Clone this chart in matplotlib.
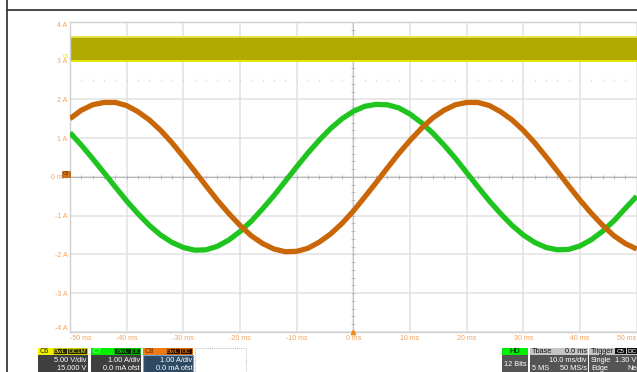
import matplotlib
matplotlib.use('Agg')
import matplotlib.pyplot as plt
from matplotlib.patches import Rectangle
import numpy as np

# ---------------- data ----------------
time_ms = list(range(-50, 51, 2))
c7_green = [1.14, 0.82, 0.47, 0.11, -0.26, -0.62, -0.95, -1.25, -1.50, -1.69,
            -1.82, -1.89, -1.88, -1.79, -1.63, -1.41, -1.14, -0.82, -0.48, -0.11,
            0.26, 0.62, 0.95, 1.25, 1.50, 1.69, 1.82, 1.87, 1.86, 1.78,
            1.62, 1.40, 1.13, 0.82, 0.48, 0.11, -0.26, -0.62, -0.95, -1.25,
            -1.50, -1.69, -1.82, -1.88, -1.87, -1.78, -1.62, -1.40, -1.13, -0.81,
            -0.50]
c8_orange = [1.50, 1.72, 1.86, 1.92, 1.92, 1.84, 1.68, 1.47, 1.20, 0.88,
             0.52, 0.15, -0.23, -0.60, -0.94, -1.25, -1.52, -1.72, -1.86, -1.93,
             -1.92, -1.84, -1.68, -1.47, -1.20, -0.88, -0.52, -0.15, 0.23, 0.60,
             0.94, 1.25, 1.52, 1.72, 1.86, 1.92, 1.92, 1.84, 1.68, 1.47,
             1.20, 0.88, 0.52, 0.15, -0.23, -0.60, -0.94, -1.25, -1.52, -1.72,
             -1.86]
c6_low, c6_high = 3.0, 3.6

x_ticks = [-50, -40, -30, -20, -10, 0, 10, 20, 30, 40, 50]
x_labels = ['-50 ms', '-40 ms', '-30 ms', '-20 ms', '-10 ms', '0 ms',
            '10 ms', '20 ms', '30 ms', '40 ms', '50 ms']
y_ticks = [4, 3, 2, 1, 0, -1, -2, -3, -4]
y_labels = ['4 A', '3 A', '2 A', '1 A', '0 mA', '-1 A', '-2 A', '-3 A', '-4 A']

# ---------------- figure ----------------
plt.rcParams['font.family'] = ['Liberation Sans', 'DejaVu Sans']
W, H = 637, 372
fig = plt.figure(figsize=(W / 100, H / 100), dpi=100)
fig.patch.set_facecolor('white')

L, T, R, B = 70, 21.8, 636.7, 332
ax = fig.add_axes([L / W, 1 - B / H, (R - L) / W, (B - T) / H])
ax.set_xlim(-50, 50)
ax.set_ylim(-4, 4)
for s in ax.spines.values():
    s.set_color('#d0d0d0')
    s.set_linewidth(1.0)
ax.spines['right'].set_visible(False)

lab_col = '#f5a35c'
ax.set_xticks(x_ticks)
ax.set_xticklabels(x_labels)
ax.set_yticks(y_ticks)
ax.set_yticklabels(y_labels)
ax.tick_params(axis='both', length=0, labelsize=5, labelcolor=lab_col)
ax.tick_params(axis='x', pad=2.2)
ax.tick_params(axis='y', pad=2.0)
xl = ax.get_xticklabels()
xl[0].set_ha('left')
xl[-1].set_ha('right')
yl = ax.get_yticklabels()
yl[0].set_va('top')
yl[-1].set_va('bottom')

ax.grid(True, color='#e2e2e2', lw=1.1, zorder=0)
ax.set_axisbelow(True)

# center crosshair with minor ticks
ax.axhline(0, color='#b8b8b8', lw=0.8, zorder=1)
ax.axvline(0, color='#c4c4c4', lw=0.8, zorder=1)
mt = np.arange(-48, 49, 2)
ax.plot(mt, np.zeros_like(mt), ls='none', marker='|', ms=3, mew=0.6, color='#b0b0b0', zorder=1)
ax.plot(mt, np.full(mt.shape, 2.5), ls='none', marker='|', ms=2, mew=0.6, color='#cfcfcf', zorder=1)
yt = np.arange(-3.8, 3.81, 0.2)
ax.plot(np.zeros_like(yt), yt, ls='none', marker='_', ms=3, mew=0.6, color='#b8b8b8', zorder=1)

# C6 band
ax.axhspan(c6_low, c6_high, color='#b0aa00', lw=0, zorder=2)
ax.axhline(c6_high, color='#e4e43c', lw=1.3, zorder=2)
ax.axhline(c6_low, color='#e8e800', lw=1.4, zorder=2)

# traces
ax.plot(time_ms, c7_green, color='#1fc41f', lw=3.8, solid_capstyle='butt', solid_joinstyle='round', zorder=3)
ax.plot(time_ms, c8_orange, color='#c96708', lw=3.8, solid_capstyle='butt', solid_joinstyle='round', zorder=4)

# trigger position marker
ax.plot([0], [-4], marker='^', ms=3.2, color='#f08a20', clip_on=False, zorder=6)

# ---------------- overlay in pixel coordinates ----------------
ov = fig.add_axes([0, 0, 1, 1])
ov.set_xlim(0, W)
ov.set_ylim(H, 0)
ov.axis('off')
ov.patch.set_alpha(0)
ov.set_zorder(5)


def box(x0, y0, x1, y1, fc, ec='none', lw=0.0, ls='-'):
    ov.add_patch(Rectangle((x0, y0), x1 - x0, y1 - y0, facecolor=fc,
                           edgecolor=ec, lw=lw, ls=ls))


def txt(x, y, s, color, ha='left', size=5.3):
    ov.text(x, y, s, color=color, ha=ha, va='center', fontsize=size)


# outer frame lines
ov.plot([7, 7], [0, H], color='#3a3a3a', lw=1.3)
ov.plot([7, W], [10, 10], color='#3a3a3a', lw=1.3)

# channel markers at left of the plot
box(62, 170.5, 70, 176.5, '#d77010', ec='#8a4400', lw=0.4)
txt(66, 173.5, 'C8', '#6a3000', ha='center', size=3.5)
txt(65.5, 56, 'C6', '#e0e000', ha='center', size=3.5)

# ---- channel boxes ----
hy0, hy1, by1 = 347.7, 355, 373
bs = 4.5
# C6
box(38, hy0, 88, hy1, '#f2f200')
box(38, hy1, 88, by1, '#3f3f3f')
txt(40, 351.5, 'C6', '#202000')
box(52.5, hy0 + 0.6, 66.5, hy1 - 0.6, '#262600', ec='#e8e800', lw=0.5)
txt(59.5, 351.5, 'BwL', '#e8e800', ha='center', size=bs)
box(66.8, hy0 + 0.6, 87.4, hy1 - 0.6, '#262600', ec='#e8e800', lw=0.5)
txt(77.1, 351.5, 'DC1M', '#e8e800', ha='center', size=bs)
txt(86.7, 360.8, '5.00 V/div', 'white', ha='right')
txt(86.7, 369, '15.000 V', 'white', ha='right')
# C7
box(91, hy0, 141, hy1, '#00f000')
box(91, hy1, 141, by1, '#3f3f3f')
txt(92.5, 351.5, 'C7', '#90ff90')
box(114, hy0 + 0.6, 131, hy1 - 0.6, '#003000', ec='#00d000', lw=0.5)
txt(122.5, 351.5, 'BwL', '#00e000', ha='center', size=bs)
box(131.2, hy0 + 0.6, 140.3, hy1 - 0.6, '#003000', ec='#00d000', lw=0.5)
txt(135.8, 351.5, 'DC', '#00e000', ha='center', size=bs)
txt(140, 360.8, '1.00 A/div', 'white', ha='right')
txt(140, 369, '0.0 mA ofst', 'white', ha='right')
# C8
box(143, hy0, 193.3, hy1, '#f07a10')
box(143, hy1, 193.3, by1, '#2e4962', ec='#6ea4d6', lw=0.8)
txt(145, 351.5, 'C8', '#6a2c00')
box(165.7, hy0 + 0.6, 180, hy1 - 0.6, '#2a1400', ec='#f07a10', lw=0.5)
txt(172.8, 351.5, 'BwL', '#f07a10', ha='center', size=bs)
box(180.2, hy0 + 0.6, 192.3, hy1 - 0.6, '#2a1400', ec='#f07a10', lw=0.5)
txt(186.2, 351.5, 'DC', '#f07a10', ha='center', size=bs)
txt(192.3, 360.8, '1.00 A/div', 'white', ha='right')
txt(192.3, 369, '0.0 mA ofst', 'white', ha='right')
# empty dotted box
box(195, hy0, 245.7, 376, 'none', ec='#a0a0a0', lw=0.6, ls=(0, (1, 1.5)))

# ---- right side boxes ----
# HD
box(501.7, hy0, 528.3, hy1, '#00ee00')
box(501.7, hy1, 528.3, by1, '#545454')
txt(515, 351.5, 'HD', '#000000', ha='center')
txt(515, 364, '12 Bits', 'white', ha='center')
# Tbase
box(530, hy0, 587.7, hy1, '#c4c4c4')
box(530, hy1, 587.7, by1, '#545454')
txt(531.5, 351.5, 'Tbase', '#101010')
txt(587, 351.5, '0.0 ms', '#101010', ha='right')
txt(587, 360.8, '10.0 ms/div', 'white', ha='right')
txt(531.5, 369, '5 MS', 'white')
txt(587, 369, '50 MS/s', 'white', ha='right')
# Trigger
box(589.3, hy0, 640, hy1, '#c4c4c4')
box(589.3, hy1, 640, by1, '#545454')
txt(591, 351.5, 'Trigger', '#101010')
box(615, hy0 + 0.6, 626, hy1 - 0.6, '#101010')
txt(620.5, 351.5, 'C5', 'white', ha='center', size=bs)
box(626.8, hy0 + 0.6, 640, hy1 - 0.6, '#101010')
txt(628, 351.5, 'DC', 'white', size=bs)
txt(591, 360.8, 'Single', 'white')
txt(636, 360.8, '1.30 V', 'white', ha='right')
txt(591, 369, 'Edge', 'white')
txt(627, 369, 'Neg', 'white')

fig.savefig('out.png', dpi=100, facecolor='white')
